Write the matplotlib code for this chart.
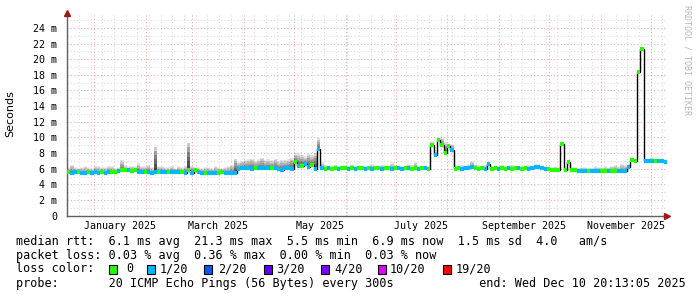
#!/usr/bin/env python3

import datetime as dt
import numpy as np
import matplotlib
matplotlib.use("Agg")
import matplotlib.pyplot as plt
import matplotlib.dates as mdates
from matplotlib.patches import Rectangle

# --- data (2 day bins, last 360 days) ---
end_time = dt.datetime(2025, 12, 10, 20, 13, 5)
span_days = 360
bin_days = 2

median_ms = [
    5.6, 5.5, 5.6, 5.6, 5.5, 5.5, 5.6, 5.5, 5.6, 5.5,
    5.6, 5.5, 5.6, 5.6, 5.6, 5.7, 5.8, 5.8, 5.8, 5.7,
    5.8, 5.6, 5.6, 5.6, 5.6, 5.5, 5.6, 5.6, 5.6, 5.6,
    5.6, 5.6, 5.6, 5.6, 5.6, 5.5, 5.8, 5.5, 5.9, 5.6,
    5.5, 5.5, 5.5, 5.5, 5.5, 5.5, 5.6, 5.5, 5.5, 5.5,
    5.5, 6.0, 6.1, 6.1, 6.1, 6.0, 6.1, 6.1, 6.1, 6.1,
    6.1, 6.1, 6.1, 6.0, 5.9, 6.1, 6.1, 6.0, 6.8, 6.4,
    6.3, 6.6, 6.2, 6.5, 6.0, 8.5, 6.1, 6.0, 6.1, 6.0,
    6.1, 6.0, 6.1, 6.1, 6.0, 6.1, 6.0, 6.1, 6.1, 6.0,
    6.1, 6.0, 6.1, 6.1, 6.0, 6.1, 6.1, 6.0, 6.1, 6.1,
    6.0, 6.1, 6.1, 6.0, 6.1, 6.0, 6.1, 6.1, 6.0, 9.0,
    7.7, 9.7, 9.0, 8.0, 8.9, 8.4, 6.0, 6.1, 6.0, 6.1,
    6.1, 6.2, 6.1, 6.0, 6.1, 6.0, 6.6, 6.0, 6.1, 6.0,
    6.1, 6.0, 6.1, 6.0, 6.1, 6.1, 6.0, 6.1, 6.0, 6.1,
    6.2, 6.2, 6.1, 6.0, 6.0, 5.9, 5.9, 5.9, 9.1, 5.9,
    6.8, 5.9, 5.8, 5.7, 5.7, 5.7, 5.7, 5.7, 5.7, 5.7,
    5.7, 5.7, 5.7, 5.7, 5.7, 5.7, 5.7, 5.7, 6.2, 7.1,
    7.0, 18.3, 21.3, 7.0, 7.0, 7.0, 7.0, 7.0, 7.0, 6.9,
]

# lost pings out of 20 per bin
loss = [
    0, 1, 1, 0, 1, 1, 0, 1, 1, 1,
    0, 1, 1, 0, 0, 1, 0, 0, 1, 0,
    0, 1, 1, 0, 1, 1, 1, 0, 1, 1,
    0, 1, 1, 1, 0, 1, 0, 1, 0, 1,
    1, 0, 1, 1, 1, 0, 0, 1, 1, 1,
    1, 1, 1, 1, 1, 1, 0, 1, 1, 1,
    1, 0, 1, 1, 1, 1, 1, 1, 0, 1,
    0, 1, 1, 0, 1, 1, 1, 0, 1, 0,
    0, 1, 0, 0, 1, 0, 1, 0, 0, 1,
    0, 1, 0, 0, 1, 0, 0, 1, 0, 1,
    1, 0, 1, 0, 0, 1, 0, 1, 0, 0,
    1, 0, 0, 0, 0, 1, 0, 0, 1, 1,
    1, 1, 0, 0, 0, 1, 1, 0, 0, 1,
    0, 0, 1, 0, 0, 1, 0, 0, 1, 1,
    1, 1, 1, 1, 0, 0, 0, 0, 0, 0,
    0, 0, 0, 1, 1, 1, 0, 1, 1, 1,
    0, 0, 1, 0, 0, 1, 1, 1, 1, 0,
    0, 0, 0, 1, 1, 1, 0, 1, 1, 1,
]

# top of the smoke (slowest ping) per bin
smoke_max_ms = [
    6.2, 6.5, 6.2, 6.1, 6.2, 6.3, 6.2, 6.1, 6.4, 6.3,
    6.2, 6.2, 6.4, 6.3, 6.1, 6.2, 7.1, 6.5, 6.3, 6.4,
    6.3, 6.7, 6.4, 6.3, 6.5, 6.2, 8.8, 6.4, 6.3, 6.2,
    6.2, 6.3, 6.1, 6.3, 6.2, 6.4, 9.3, 6.4, 6.2, 6.2,
    6.1, 6.2, 6.2, 6.1, 6.3, 6.2, 6.1, 6.2, 6.3, 6.5,
    7.3, 6.9, 7.0, 7.1, 7.2, 7.3, 7.0, 7.2, 7.4, 7.1,
    7.2, 7.1, 7.3, 7.0, 7.1, 7.1, 7.2, 7.4, 8.0, 7.9,
    7.8, 7.6, 7.9, 7.7, 8.0, 9.9, 6.8, 6.5, 6.4, 6.4,
    6.5, 6.4, 6.4, 6.3, 6.4, 6.6, 6.4, 6.3, 6.4, 6.3,
    6.4, 6.6, 6.3, 6.4, 6.5, 6.3, 6.4, 6.8, 6.5, 6.4,
    6.3, 6.4, 6.6, 6.5, 6.9, 6.4, 6.3, 6.4, 6.3, 9.5,
    8.2, 9.9, 10.0, 9.4, 8.6, 9.2, 6.5, 6.4, 6.5, 6.4,
    6.6, 7.0, 6.6, 6.5, 6.4, 6.5, 6.7, 6.4, 6.3, 6.4,
    6.5, 6.4, 6.3, 6.5, 6.4, 6.4, 6.3, 6.4, 6.5, 6.4,
    6.6, 6.5, 6.4, 6.3, 6.3, 6.2, 6.3, 6.2, 9.2, 6.2,
    6.9, 6.2, 6.1, 6.1, 6.2, 6.2, 6.1, 6.1, 6.3, 6.2,
    6.2, 6.3, 6.2, 6.4, 6.5, 6.3, 6.6, 6.5, 6.6, 7.3,
    7.3, 18.5, 21.5, 7.3, 7.3, 7.4, 7.3, 7.3, 7.3, 7.2,
]

loss_labels = ["0", "1/20", "2/20", "3/20", "4/20", "10/20", "19/20"]
loss_colors = ["#26ff00", "#00b8ff", "#0059ff", "#5e00ff", "#7e00ff", "#dd00ff", "#ff0000"]

y_ticks = list(range(0, 25, 2))
label_months = [1, 3, 5, 7, 9, 11]

line_rtt = "median rtt:  6.1 ms avg  21.3 ms max  5.5 ms min  6.9 ms now  1.5 ms sd  4.0   am/s"
line_loss = "packet loss: 0.03 % avg  0.36 % max  0.00 % min  0.03 % now"
line_probe = "probe:       20 ICMP Echo Pings (56 Bytes) every 300s            end: Wed Dec 10 20:13:05 2025"

MONO = "DejaVu Sans Mono"
W, H = 697, 297


def px(x, y):
    # pixel position -> figure fraction
    return x / W, 1 - y / H


def main():
    med = np.array(median_ms)
    hi = np.array(smoke_max_ms)
    lost = np.array(loss)

    start = end_time - dt.timedelta(days=span_days)
    edges = mdates.date2num([start + dt.timedelta(days=bin_days * i) for i in range(len(med) + 1)])
    x0 = mdates.date2num(start)
    x1 = mdates.date2num(end_time)

    fig = plt.figure(figsize=(W / 100, H / 100), dpi=100)
    fig.patch.set_facecolor("white")
    ax = fig.add_axes([67 / W, 1 - 215.7 / H, 600 / W, (215.7 - 13) / H])
    ax.set_xlim(x0, x1)
    ax.set_ylim(0, 25.9)

    # grid: weekly / monthly verticals, 1 ms / 2 ms horizontals
    minor_c = "#dcdcdc"
    major_c = "#eeaaaa"
    dots = (0, (1, 2))
    d = start.date()
    while d <= end_time.date():
        xv = mdates.date2num(dt.datetime(d.year, d.month, d.day))
        if d.day == 1:
            ax.axvline(xv, color=major_c, lw=0.8, ls=dots, zorder=0)
        elif d.weekday() == 0:
            ax.axvline(xv, color=minor_c, lw=0.8, ls=dots, zorder=0)
        d += dt.timedelta(days=1)
    for yv in range(1, 26):
        c = major_c if yv % 2 == 0 else minor_c
        ax.axhline(yv, color=c, lw=0.8, ls=dots, zorder=0)

    # smoke
    span = hi - med
    strength = np.clip(span / 2.5, 0, 1)
    alpha = 0.035 + 0.16 * strength
    rgba = np.zeros((len(med), 4))
    rgba[:, 3] = alpha
    n_layers = 6
    for k in range(n_layers):
        f = (k + 1) / n_layers
        ax.bar(edges[:-1], f * span + 0.25, bottom=med - 0.25, width=np.diff(edges),
               align="edge", color=rgba, linewidth=0, zorder=1)

    # median line + loss coloured segments
    ax.stairs(med, edges, baseline=None, color="black", lw=1.0, zorder=2)
    for lvl, col in zip([0, 1], loss_colors[:2]):
        m = lost == lvl
        ax.hlines(med[m], edges[:-1][m], edges[1:][m], colors=col, lw=3, zorder=3)

    # axes
    for s in ["top", "right"]:
        ax.spines[s].set_visible(False)
    for s in ["left", "bottom"]:
        ax.spines[s].set_color("#606060")
        ax.spines[s].set_linewidth(1)
    ax.set_yticks(y_ticks)
    ax.set_yticklabels(["0" if v == 0 else "%d m" % v for v in y_ticks])
    mids = []
    labels = []
    for m in label_months:
        a = dt.datetime(2025, m, 1)
        b = dt.datetime(2025, m + 1, 1)
        mids.append(mdates.date2num(a + (b - a) / 2))
        labels.append(a.strftime("%B %Y"))
    ax.set_xticks(mids)
    ax.set_xticklabels(labels)
    ax.tick_params(length=0, labelsize=7.2, colors="black")
    ax.tick_params(axis="y", pad=7)
    ax.tick_params(axis="x", pad=4)
    for t in ax.get_xticklabels() + ax.get_yticklabels():
        t.set_family(MONO)

    # arrow heads
    ax.plot([1.0], [0], marker=">", ms=4, color="#a01818", transform=ax.transAxes, clip_on=False, zorder=5)
    ax.plot([0], [1.0], marker="^", ms=4, color="#a01818", transform=ax.transAxes, clip_on=False, zorder=5)

    fig.text(*px(10, 114), "Seconds", rotation=90, ha="center", va="center", fontsize=8, family="DejaVu Sans")
    fig.text(*px(687, 5), "RRDTOOL / TOBI OETIKER", rotation=270, ha="center", va="top",
             fontsize=6, color="#b8b8b8", family=MONO)

    # legend block
    fs = 8.5
    fig.text(*px(16, 241), line_rtt, ha="left", va="center", fontsize=fs, family=MONO)
    fig.text(*px(16, 255), line_loss, ha="left", va="center", fontsize=fs, family=MONO)
    fig.text(*px(16, 269), "loss color:", ha="left", va="center", fontsize=fs, family=MONO)
    sw_x = [109, 147, 204, 264, 321, 378, 443]
    lab_x = [126, 160, 218, 276, 334, 390, 456]
    for sx, lx, col, lab in zip(sw_x, lab_x, loss_colors, loss_labels):
        fig.patches.append(Rectangle(px(sx, 273.5), 8 / W, 9 / H, transform=fig.transFigure,
                                     facecolor=col, edgecolor="black", lw=0.8))
        fig.text(*px(lx, 269), lab, ha="left", va="center", fontsize=fs, family=MONO)
    fig.text(*px(16, 284), line_probe, ha="left", va="center", fontsize=fs, family=MONO)

    fig.savefig("out.png", dpi=100, facecolor="white")


if __name__ == "__main__":
    main()
